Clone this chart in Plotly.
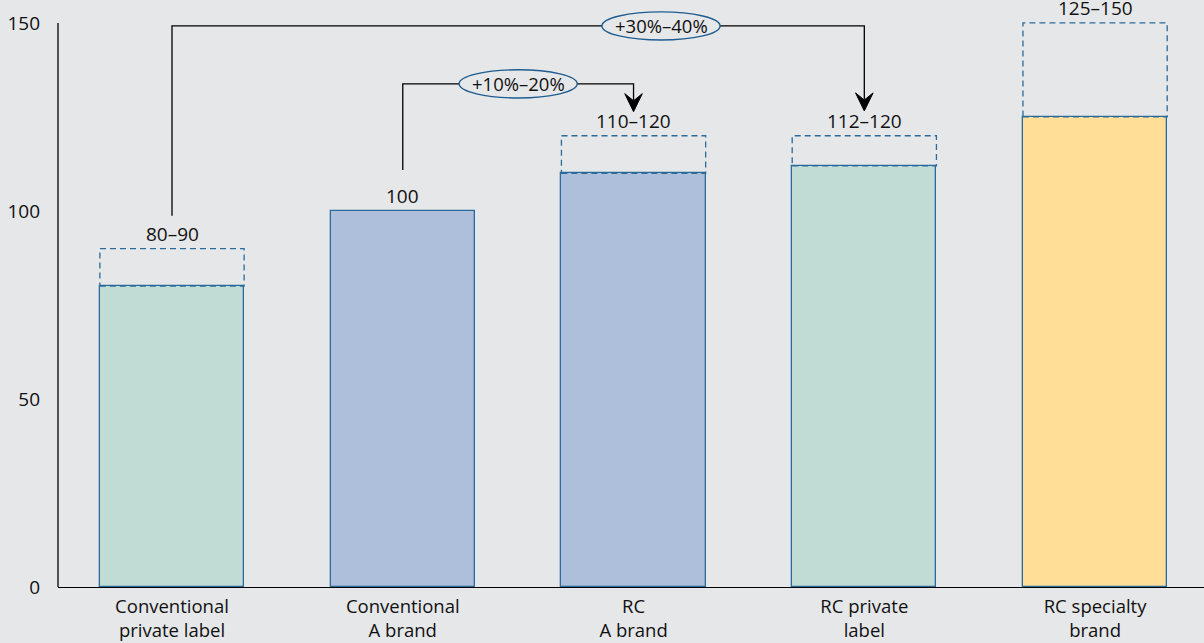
import plotly.graph_objects as go

# Price index by product type (conventional A brand = 100)
categories = [
    "Conventional<br>private label",
    "Conventional<br>A brand",
    "RC<br>A brand",
    "RC private<br>label",
    "RC specialty<br>brand",
]
price_low = [80, 100, 110, 112, 125]
price_high = [90, 100, 120, 120, 150]
range_labels = ["80–90", "100", "110–120", "112–120", "125–150"]
bar_colors = ["#c0dcd5", "#adbfdb", "#adbfdb", "#c0dcd5", "#ffde98"]

premium_labels = ["+30%–40%", "+10%–20%"]

BG = "#e6e7e9"
EDGE = "#2b6b9a"
INK = "#111111"
FONT = "Open Sans"
BAR_W = 0.625

xs = list(range(len(categories)))

fig = go.Figure()

fig.add_trace(go.Bar(
    x=xs,
    y=price_low,
    width=BAR_W,
    marker=dict(color=bar_colors, line=dict(color=EDGE, width=1.3)),
    hoverinfo="skip",
    showlegend=False,
))

shapes = []
annotations = []

# dashed outline covering the upper part of each price range
for i, (lo, hi) in enumerate(zip(price_low, price_high)):
    if hi > lo:
        shapes.append(dict(
            type="rect", xref="x", yref="y",
            x0=i - BAR_W / 2, x1=i + BAR_W / 2, y0=lo, y1=hi,
            line=dict(color=EDGE, width=1.3, dash="6px,4px"),
            fillcolor="rgba(0,0,0,0)", layer="above",
        ))
    annotations.append(dict(
        x=i, y=hi, xref="x", yref="y", text=range_labels[i],
        showarrow=False, yanchor="middle", yshift=15,
        font=dict(family=FONT, size=19, color=INK),
    ))


def bracket(x_from, y_from, x_to, y_top, y_tip, x_label, label):
    """Elbow connector with a premium badge and an arrow into the target bar."""
    fig.add_trace(go.Scatter(
        x=[x_from, x_from, x_to, x_to],
        y=[y_from, y_top, y_top, y_tip + 3.0],
        mode="lines", line=dict(color="black", width=1.3),
        hoverinfo="skip", showlegend=False,
    ))
    # stealth arrowhead
    hw, hh, notch = 0.038, 4.8, 2.9
    shapes.append(dict(
        type="path", xref="x", yref="y",
        path=(f"M {x_to},{y_tip} L {x_to - hw},{y_tip + hh} "
              f"L {x_to},{y_tip + notch} L {x_to + hw},{y_tip + hh} Z"),
        fillcolor="black", line=dict(color="black", width=1), layer="above",
    ))
    # oval badge
    rx, ry = 0.256, 3.75
    shapes.append(dict(
        type="circle", xref="x", yref="y",
        x0=x_label - rx, x1=x_label + rx, y0=y_top - ry, y1=y_top + ry,
        line=dict(color="#1f5c8f", width=1.4), fillcolor=BG, layer="above",
    ))
    annotations.append(dict(
        x=x_label, y=y_top, xref="x", yref="y", text=label,
        showarrow=False, font=dict(family=FONT, size=18.5, color=INK),
    ))


bracket(0, 98.7, 3, 149.2, 126.6, 2.119, premium_labels[0])
bracket(1, 110.9, 2, 133.8, 126.4, 1.5, premium_labels[1])

# vertical axis line stops at 150
shapes.append(dict(
    type="line", xref="paper", yref="y", x0=0, x1=0, y0=0, y1=150,
    line=dict(color="black", width=1.3), layer="above",
))

fig.update_layout(
    width=1204, height=643,
    margin=dict(l=58, r=0, t=0, b=56),
    paper_bgcolor=BG, plot_bgcolor=BG,
    font=dict(family=FONT, size=19, color=INK),
    shapes=shapes, annotations=annotations,
    bargap=0,
)

fig.update_xaxes(
    range=[-0.494, 4.472],
    tickvals=xs, ticktext=categories,
    showgrid=False, zeroline=False,
    showline=True, linecolor="black", linewidth=1.3,
    ticks="", ticklabelstandoff=3,
    tickfont=dict(family=FONT, size=18.5, color=INK),
    fixedrange=True,
)
fig.update_yaxes(
    range=[0, 156.1],
    tickvals=[0, 50, 100, 150],
    showgrid=False, zeroline=False, showline=False,
    ticks="", ticklabelstandoff=17,
    tickfont=dict(family=FONT, size=19, color=INK),
    fixedrange=True,
)

fig.write_html("out.html")
